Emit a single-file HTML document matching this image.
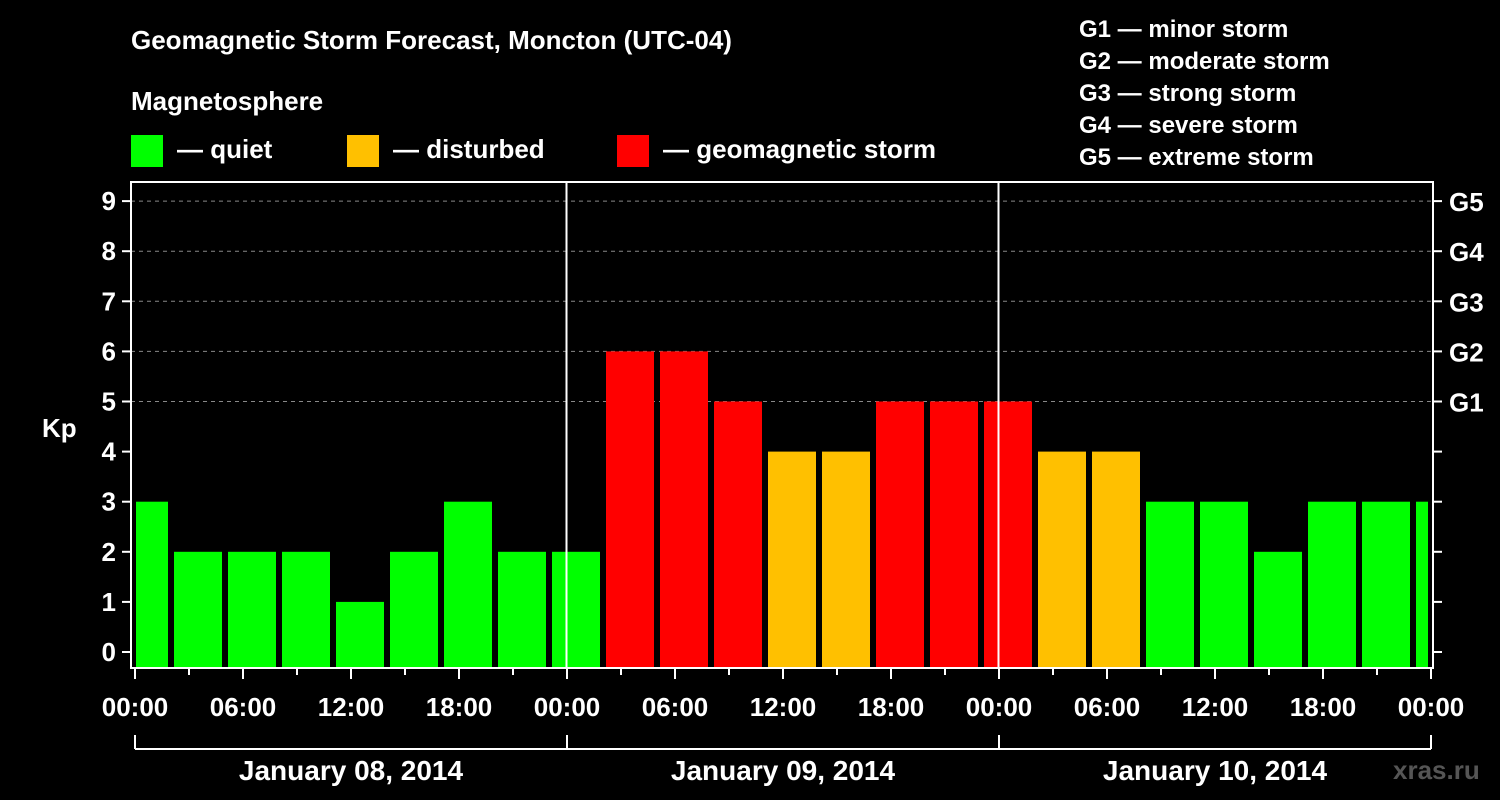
<!DOCTYPE html>
<html><head><meta charset="utf-8"><style>
body{margin:0;background:#000;}
svg{display:block;font-family:"Liberation Sans",Arial,sans-serif;font-weight:bold;}
</style></head><body>
<svg id="chart" width="1500" height="800" viewBox="0 0 1500 800">
<rect width="1500" height="800" fill="#000"/>
<g fill="#fff" font-size="26">
<text x="131" y="49">Geomagnetic Storm Forecast, Moncton (UTC-04)</text>
<text x="131" y="110">Magnetosphere</text>
</g>
<g font-size="26" fill="#fff">
<rect x="131" y="135" width="32" height="32" fill="#00ff00"/>
<text x="177" y="158">— quiet</text>
<rect x="347" y="135" width="32" height="32" fill="#ffc000"/>
<text x="393" y="158">— disturbed</text>
<rect x="617" y="135" width="32" height="32" fill="#ff0000"/>
<text x="663" y="158">— geomagnetic storm</text>
</g>
<g font-size="24" fill="#fff">
<text x="1079" y="37">G1 — minor storm</text>
<text x="1079" y="69">G2 — moderate storm</text>
<text x="1079" y="101">G3 — strong storm</text>
<text x="1079" y="133">G4 — severe storm</text>
<text x="1079" y="165">G5 — extreme storm</text>
</g>
<text x="42" y="437" font-size="26" fill="#fff">Kp</text>
<text x="1393" y="779" font-size="26" fill="#555">xras.ru</text>
<g id="plot"></g>
</svg>
<script>
const kpValues=[3,2,2,2,1,2,3,2,2,6,6,5,4,4,5,5,5,4,4,3,3,2,3,3,3];
const startHours=[-1,2,5,8,11,14,17,20,23,26,29,32,35,38,41,44,47,50,53,56,59,62,65,68,71];
const yTicks=[0,1,2,3,4,5,6,7,8,9];
const gLabels=["G1","G2","G3","G4","G5"];
const gLevels=[5,6,7,8,9];
const xTickLabels=["00:00","06:00","12:00","18:00","00:00","06:00","12:00","18:00","00:00","06:00","12:00","18:00","00:00"];
const dayLabels=["January 08, 2014","January 09, 2014","January 10, 2014"];

const NS="http://www.w3.org/2000/svg";
const g=document.getElementById('plot');
const X0=135,PXH=18,Y0=652,PXK=50.1;
const L=131,R=1433,T=182,B=668;
const xs=h=>X0+h*PXH, ys=v=>Y0-v*PXK;
function mk(tag,a,p){const e=document.createElementNS(NS,tag);for(const k in a)e.setAttribute(k,a[k]);(p||g).appendChild(e);return e;}
function col(v){return v>=5?"#ff0000":v>=4?"#ffc000":"#00ff00";}

// grid lines
gLevels.forEach(v=>{
 const l=mk('line',{x1:L,x2:R,y1:ys(v),y2:ys(v),stroke:"#888","stroke-dasharray":"4,4","stroke-width":1});
 
 
});
// bars
kpValues.forEach((v,i)=>{
 let x1=Math.max(xs(startHours[i])+3,136), x2=Math.min(xs(startHours[i]+3)-3,1428);
 const r=mk('rect',{x:x1,y:ys(v),width:x2-x1,height:B-ys(v),fill:col(v)});
 
 
});
// day separators
[24,48].forEach(h=>{
 const l=mk('line',{x1:xs(h)-0.5,x2:xs(h)-0.5,y1:T,y2:B,stroke:"#fff","stroke-width":2});
 
 
});
// frame
const fr=mk('rect',{x:L,y:T,width:R-L,height:B-T,fill:"none",stroke:"#fff","stroke-width":2});


// y ticks
yTicks.forEach(v=>{
 mk('line',{x1:122,x2:L,y1:ys(v),y2:ys(v),stroke:"#fff","stroke-width":2});
 mk('line',{x1:R,x2:1442,y1:ys(v),y2:ys(v),stroke:"#fff","stroke-width":2});
 const t=mk('text',{x:116,y:ys(v)+9,"text-anchor":"end","font-size":26,fill:"#fff"});
 t.textContent=v;
 
 
});
gLabels.forEach((s,i)=>{
 const t=mk('text',{x:1449,y:ys(gLevels[i])+10,"font-size":26,fill:"#fff"});
 t.textContent=s;
 
 
});
// x ticks
for(let h=0;h<=72;h+=3){
 const major=h%6===0;
 mk('line',{x1:xs(h),x2:xs(h),y1:B+1,y2:B+(major?11:7),stroke:"#fff","stroke-width":2});
}
xTickLabels.forEach((s,i)=>{
 const t=mk('text',{x:xs(i*6),y:716,"text-anchor":"middle","font-size":26,fill:"#fff"});
 t.textContent=s;
 
 
});
// day bracket
mk('line',{x1:xs(0),x2:xs(72),y1:749,y2:749,stroke:"#fff","stroke-width":2});
[0,24,48,72].forEach(h=>mk('line',{x1:xs(h),x2:xs(h),y1:735,y2:749,stroke:"#fff","stroke-width":2}));
dayLabels.forEach((s,i)=>{
 const t=mk('text',{x:xs(i*24+12),y:780,"text-anchor":"middle","font-size":28,fill:"#fff"});
 t.textContent=s;
 
 
});
</script>
</body></html>
